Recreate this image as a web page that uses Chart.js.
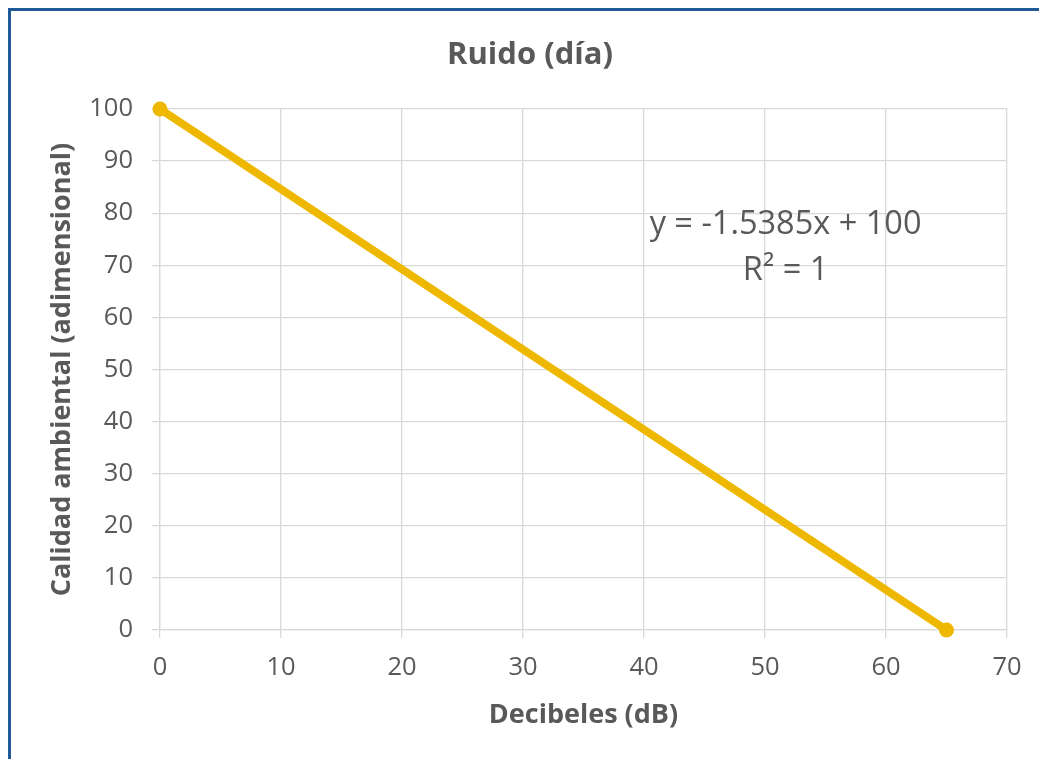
<!DOCTYPE html>
<html>
<head>
<meta charset="utf-8">
<script src="https://cdn.jsdelivr.net/npm/chart.js@4/dist/chart.umd.min.js"></script>
<style>
  html, body { margin: 0; padding: 0; background: #ffffff; overflow: hidden; }
  body { padding: 8px 0 0 8px; }
  #frame {
    border-top: 3px solid #1F5A96;
    border-left: 3px solid #1F5A96;
    width: 1028px;
    height: 748px;
    background: #ffffff;
  }
  #chart { display: block; }
</style>
</head>
<body>
<div id="frame"><canvas id="chart" width="1028" height="748"></canvas></div>
<script>
// Noise (day) vs. environmental quality
const decibels = [0, 65];
const quality = [100, 0];
const xTicks = [0, 10, 20, 30, 40, 50, 60, 70];
const yTicks = [0, 10, 20, 30, 40, 50, 60, 70, 80, 90, 100];
const trendLabel = ['y = -1.5385x + 100', 'R² = 1'];
const trendLabelAnchor = [51.7, 77.7]; // x, y in data units

const textColor = '#595959';
const gridColor = '#D9D9D9';
const lineColor = '#EFB800';
const fontFamily = '"Open Sans", "Liberation Sans", sans-serif';

const points = decibels.map((x, i) => ({ x: x, y: quality[i] }));

const trendLabelPlugin = {
  id: 'trendLabel',
  afterDatasetsDraw(chart) {
    const { ctx, scales } = chart;
    const cx = scales.x.getPixelForValue(trendLabelAnchor[0]);
    const cy = scales.y.getPixelForValue(trendLabelAnchor[1]);
    ctx.save();
    ctx.fillStyle = textColor;
    ctx.font = '32.5px ' + fontFamily;
    ctx.textAlign = 'center';
    ctx.textBaseline = 'middle';
    trendLabel.forEach((line, i) => ctx.fillText(line, cx, cy + i * 46));
    ctx.restore();
  }
};

new Chart(document.getElementById('chart'), {
  type: 'scatter',
  data: {
    datasets: [{
      data: points,
      showLine: true,
      clip: false,
      borderColor: lineColor,
      backgroundColor: lineColor,
      borderWidth: 8,
      pointRadius: 7.5,
      pointHoverRadius: 7.5,
      pointBorderWidth: 0,
      borderCapStyle: 'round'
    }]
  },
  options: {
    responsive: false,
    animation: false,
    layout: { padding: { left: 42, right: 32, top: 0, bottom: 0 } },
    plugins: {
      legend: { display: false },
      tooltip: { enabled: false },
      title: {
        display: true,
        text: 'Ruido (día)',
        color: textColor,
        font: { family: fontFamily, size: 31, weight: 'bold', lineHeight: 1.2 },
        padding: { top: 25.4, bottom: 35.4 }
      }
    },
    scales: {
      x: {
        type: 'linear',
        min: 0, max: 70,
        afterBuildTicks(scale) { scale.ticks = xTicks.map(v => ({ value: v })); },
        afterFit(scale) { scale.height = 129; },
        grid: { color: gridColor, lineWidth: 1.3, tickLength: 8, tickColor: gridColor },
        border: { color: gridColor, width: 1.3 },
        ticks: { color: textColor, padding: 14, font: { family: fontFamily, size: 25.5 } },
        title: {
          display: true,
          text: 'Decibeles (dB)',
          color: textColor,
          font: { family: fontFamily, size: 27, weight: 'bold', lineHeight: 1.2 },
          padding: { top: 0, bottom: 27.8 }
        }
      },
      y: {
        type: 'linear',
        min: 0, max: 100,
        afterBuildTicks(scale) { scale.ticks = yTicks.map(v => ({ value: v })); },
        afterFit(scale) { scale.width = 107; },
        grid: { color: gridColor, lineWidth: 1.3, tickLength: 8, tickColor: gridColor },
        border: { color: gridColor, width: 1.3 },
        ticks: { color: textColor, padding: 19, font: { family: fontFamily, size: 25.5 } },
        title: {
          display: true,
          text: 'Calidad ambiental (adimensional)',
          color: textColor,
          font: { family: fontFamily, size: 27, weight: 'bold', lineHeight: '18px' },
          padding: { top: 0, bottom: 0 }
        }
      }
    }
  },
  plugins: [trendLabelPlugin]
});
</script>
</body>
</html>
